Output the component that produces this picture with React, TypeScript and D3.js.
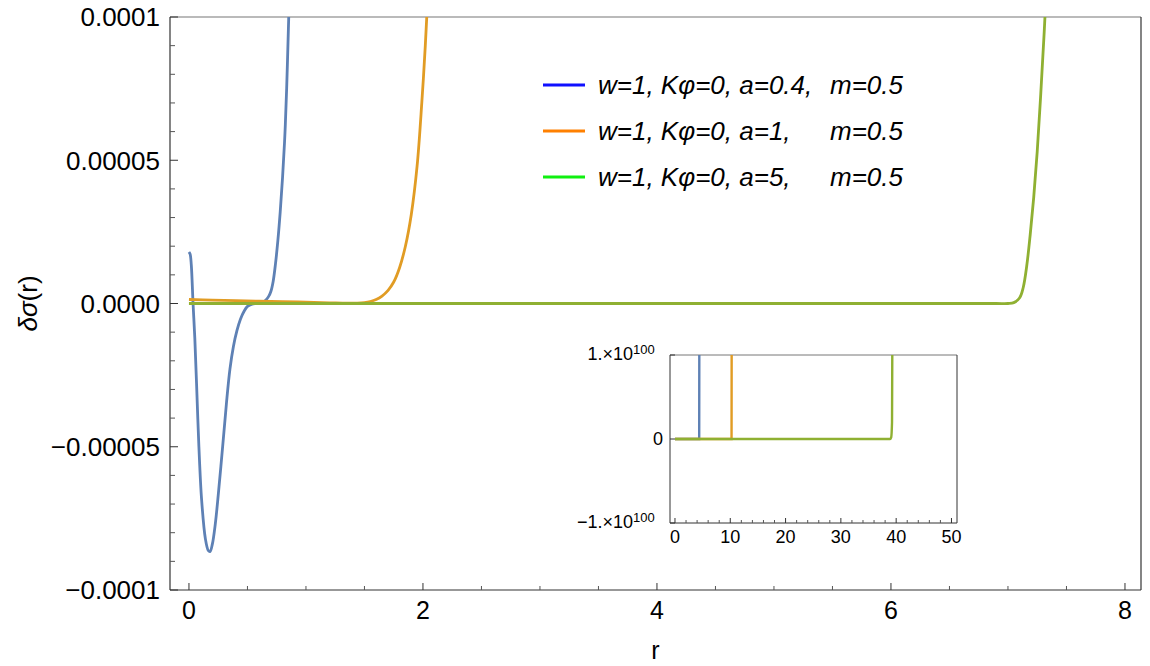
import React from "react";
import * as d3 from "d3";

// main plot: r vs delta sigma (values in units of 1e-5)
const blueSeries: [number, number][] = [
  [0, 1.8], [0.01, 1.72], [0.02, 1.35], [0.035, 0], [0.05, -1.2], [0.065, -2.8],
  [0.085, -5.0], [0.108, -6.84], [0.14, -8.2], [0.165, -8.62], [0.18, -8.66],
  [0.2, -8.4], [0.225, -7.7], [0.25, -6.7], [0.29, -4.9], [0.32, -3.5],
  [0.35, -2.3], [0.38, -1.5], [0.41, -0.95], [0.44, -0.55], [0.47, -0.28],
  [0.5, -0.1], [0.54, -0.02], [0.58, 0], [0.62, 0.03], [0.65, 0.09],
  [0.68, 0.24], [0.7, 0.42], [0.72, 0.78], [0.74, 1.4], [0.76, 2.2],
  [0.78, 3.2], [0.8, 4.4], [0.82, 5.9], [0.835, 7.5], [0.85, 9.6], [0.86, 11],
];

const orangeSeries: [number, number][] = [
  [0, 0.14], [0.2, 0.12], [0.4, 0.1], [0.6, 0.08], [0.8, 0.065], [1.0, 0.045],
  [1.2, 0.025], [1.35, 0.01], [1.44, 0.01], [1.5, 0.03], [1.55, 0.07],
  [1.6, 0.14], [1.65, 0.26], [1.7, 0.45], [1.75, 0.75], [1.8, 1.25],
  [1.85, 2.0], [1.9, 3.1], [1.95, 4.8], [1.99, 7.0], [2.02, 9.0], [2.05, 11.5],
];

const greenSeries: [number, number][] = [
  [0, 0], [1, 0], [2, 0], [3, 0], [4, 0], [5, 0], [6, 0], [6.9, 0], [7.0, 0],
  [7.05, 0.03], [7.1, 0.2], [7.13, 0.55], [7.16, 1.3], [7.19, 2.4],
  [7.22, 3.7], [7.25, 5.3], [7.28, 7.3], [7.31, 9.5], [7.34, 12],
];

// inset: wide r range (values in units of 1e100)
const insetBlue: [number, number][] = [[0, 0], [4.38, 0], [4.4, 1.05]];
const insetOrange: [number, number][] = [[0, 0], [10.23, 0], [10.25, 1.05]];
const insetGreen: [number, number][] = [
  [0, 0], [38.9, 0], [39.1, 0.02], [39.25, 0.2], [39.3, 1.05],
];

const xTicks = [0, 2, 4, 6, 8];
const yTicks = [-10, -5, 0, 5, 10];
const yTickLabels = ["\u22120.0001", "\u22120.00005", "0.0000", "0.00005", "0.0001"];
const insetXTicks = [0, 10, 20, 30, 40, 50];

const legendItems = [
  { label: "w=1, K\u03c6=0, a=0.4,", tail: "m=0.5", color: "#1010ff" },
  { label: "w=1, K\u03c6=0, a=1,", tail: "m=0.5", color: "#ff8000" },
  { label: "w=1, K\u03c6=0, a=5,", tail: "m=0.5", color: "#10f010" },
];

const curveColors = ["#5e81b5", "#e19c24", "#8fb032"];

const FONT = "'Liberation Sans', Arial, sans-serif";

const App = () => {
  const width = 1150;
  const height = 666;
  const plot = { left: 170, right: 1141, top: 17, bottom: 590 };
  const inset = { left: 670, right: 957, top: 355, bottom: 523 };

  const xScale = d3.scaleLinear().domain([-0.162, 8.137]).range([plot.left, plot.right]);
  const yScale = d3.scaleLinear().domain([-10, 10]).range([plot.bottom, plot.top]);

  const ixScale = d3.scaleLinear().domain([-0.9, 51.0]).range([inset.left, inset.right]);
  const iyScale = d3.scaleLinear().domain([-1, 1]).range([inset.bottom, inset.top]);

  const line = d3
    .line<[number, number]>()
    .x((d) => xScale(d[0]))
    .y((d) => yScale(d[1]))
    .curve(d3.curveCatmullRom.alpha(0.5));

  const insetLine = d3
    .line<[number, number]>()
    .x((d) => ixScale(d[0]))
    .y((d) => iyScale(d[1]))
    .curve(d3.curveMonotoneX);

  const xMinor = d3.range(0, 8.01, 0.5).filter((v) => v % 2 !== 0);
  const yMinor = d3.range(-10, 10.01, 1).filter((v) => v % 5 !== 0);
  const ixMinor = d3.range(0, 50.01, 2).filter((v) => v % 10 !== 0);

  return (
    <svg
      width={width}
      height={height}
      style={{ position: "absolute", left: 0, top: 0, background: "#fff" }}
      fontFamily={FONT}
    >
      <defs>
        <clipPath id="plotClip">
          <rect x={plot.left} y={plot.top} width={plot.right - plot.left} height={plot.bottom - plot.top} />
        </clipPath>
        <clipPath id="insetClip">
          <rect x={inset.left} y={inset.top} width={inset.right - inset.left} height={inset.bottom - inset.top} />
        </clipPath>
      </defs>

      {/* main frame */}
      <line x1={plot.left} x2={plot.right} y1={plot.top} y2={plot.top} stroke="#777" strokeWidth={1.2} />
      <line x1={plot.right} x2={plot.right} y1={plot.top} y2={plot.bottom} stroke="#333" strokeWidth={1.2} />
      <line x1={plot.left} x2={plot.left} y1={plot.top} y2={plot.bottom} stroke="#333" strokeWidth={1.2} />
      <line x1={plot.left} x2={plot.right} y1={plot.bottom} y2={plot.bottom} stroke="#333" strokeWidth={1.2} />

      {/* y ticks */}
      {yTicks.map((t, i) => (
        <g key={"yt" + t}>
          <line x1={plot.left} x2={plot.left + 8} y1={yScale(t)} y2={yScale(t)} stroke="#333" />
          <text x={plot.left - 10} y={yScale(t)} dy="0.36em" textAnchor="end" fontSize={26}>
            {yTickLabels[i]}
          </text>
        </g>
      ))}
      {yMinor.map((t) => (
        <line key={"ym" + t} x1={plot.left} x2={plot.left + 5} y1={yScale(t)} y2={yScale(t)} stroke="#555" />
      ))}

      {/* x ticks */}
      {xTicks.map((t) => (
        <g key={"xt" + t}>
          <line x1={xScale(t)} x2={xScale(t)} y1={plot.bottom} y2={plot.bottom - 7} stroke="#333" />
          <text x={xScale(t)} y={619} textAnchor="middle" fontSize={25}>
            {t}
          </text>
        </g>
      ))}
      {xMinor.map((t) => (
        <line key={"xm" + t} x1={xScale(t)} x2={xScale(t)} y1={plot.bottom} y2={plot.bottom - 4} stroke="#555" />
      ))}

      {/* axis labels */}
      <text x={(plot.left + plot.right) / 2} y={659} textAnchor="middle" fontSize={25}>
        r
      </text>
      <text
        transform={`translate(37, ${(plot.top + plot.bottom) / 2}) rotate(-90)`}
        textAnchor="middle"
        fontSize={26}
      >
        <tspan fontStyle="italic">{"\u03b4\u03c3"}</tspan>
        (r)
      </text>

      {/* curves */}
      <g clipPath="url(#plotClip)" fill="none" strokeWidth={2.8} strokeLinejoin="round">
        <path d={line(blueSeries) ?? ""} stroke={curveColors[0]} />
        <path d={line(orangeSeries) ?? ""} stroke={curveColors[1]} />
        <path d={line(greenSeries) ?? ""} stroke={curveColors[2]} />
      </g>

      {/* legend */}
      {legendItems.map((item, i) => {
        const cy = 85 + i * 46;
        return (
          <g key={"lg" + i}>
            <line x1={543} x2={585} y1={cy} y2={cy} stroke={item.color} strokeWidth={3} />
            <text x={598} y={cy + 9} fontSize={26} fontStyle="italic">
              {item.label}
            </text>
            <text x={903} y={cy + 9} fontSize={26} fontStyle="italic" textAnchor="end">
              {item.tail}
            </text>
          </g>
        );
      })}

      {/* inset */}
      <g>
        <line x1={inset.left} x2={inset.right} y1={inset.top} y2={inset.top} stroke="#777" />
        <line x1={inset.right} x2={inset.right} y1={inset.top} y2={inset.bottom} stroke="#333" />
        <line x1={inset.left} x2={inset.left} y1={inset.top} y2={inset.bottom} stroke="#333" />
        <line x1={inset.left} x2={inset.right} y1={inset.bottom} y2={inset.bottom} stroke="#333" />

        {[-1, 0, 1].map((t) => (
          <line key={"iyt" + t} x1={inset.left} x2={inset.left + 5} y1={iyScale(t)} y2={iyScale(t)} stroke="#333" />
        ))}
        <text x={633} y={iyScale(1) + 5} textAnchor="end" fontSize={18}>
          1.×10
        </text>
        <text x={633} y={iyScale(1) - 1} textAnchor="start" fontSize={13}>
          100
        </text>
        <text x={663} y={iyScale(0) + 6} textAnchor="end" fontSize={18}>
          0
        </text>
        <text x={633} y={iyScale(-1) + 5} textAnchor="end" fontSize={18}>
          {"\u22121.×10"}
        </text>
        <text x={633} y={iyScale(-1) - 1} textAnchor="start" fontSize={13}>
          100
        </text>

        {insetXTicks.map((t) => (
          <g key={"ixt" + t}>
            <line x1={ixScale(t)} x2={ixScale(t)} y1={inset.bottom} y2={inset.bottom - 5} stroke="#333" />
            <text x={ixScale(t)} y={inset.bottom + 20} textAnchor="middle" fontSize={18}>
              {t}
            </text>
          </g>
        ))}
        {ixMinor.map((t) => (
          <line key={"ixm" + t} x1={ixScale(t)} x2={ixScale(t)} y1={inset.bottom} y2={inset.bottom - 3} stroke="#555" />
        ))}

        <g clipPath="url(#insetClip)" fill="none" strokeWidth={2.4}>
          <path d={insetLine(insetBlue) ?? ""} stroke={curveColors[0]} />
          <path d={insetLine(insetOrange) ?? ""} stroke={curveColors[1]} />
          <path d={insetLine(insetGreen) ?? ""} stroke={curveColors[2]} />
        </g>
      </g>
    </svg>
  );
};

export default App;
